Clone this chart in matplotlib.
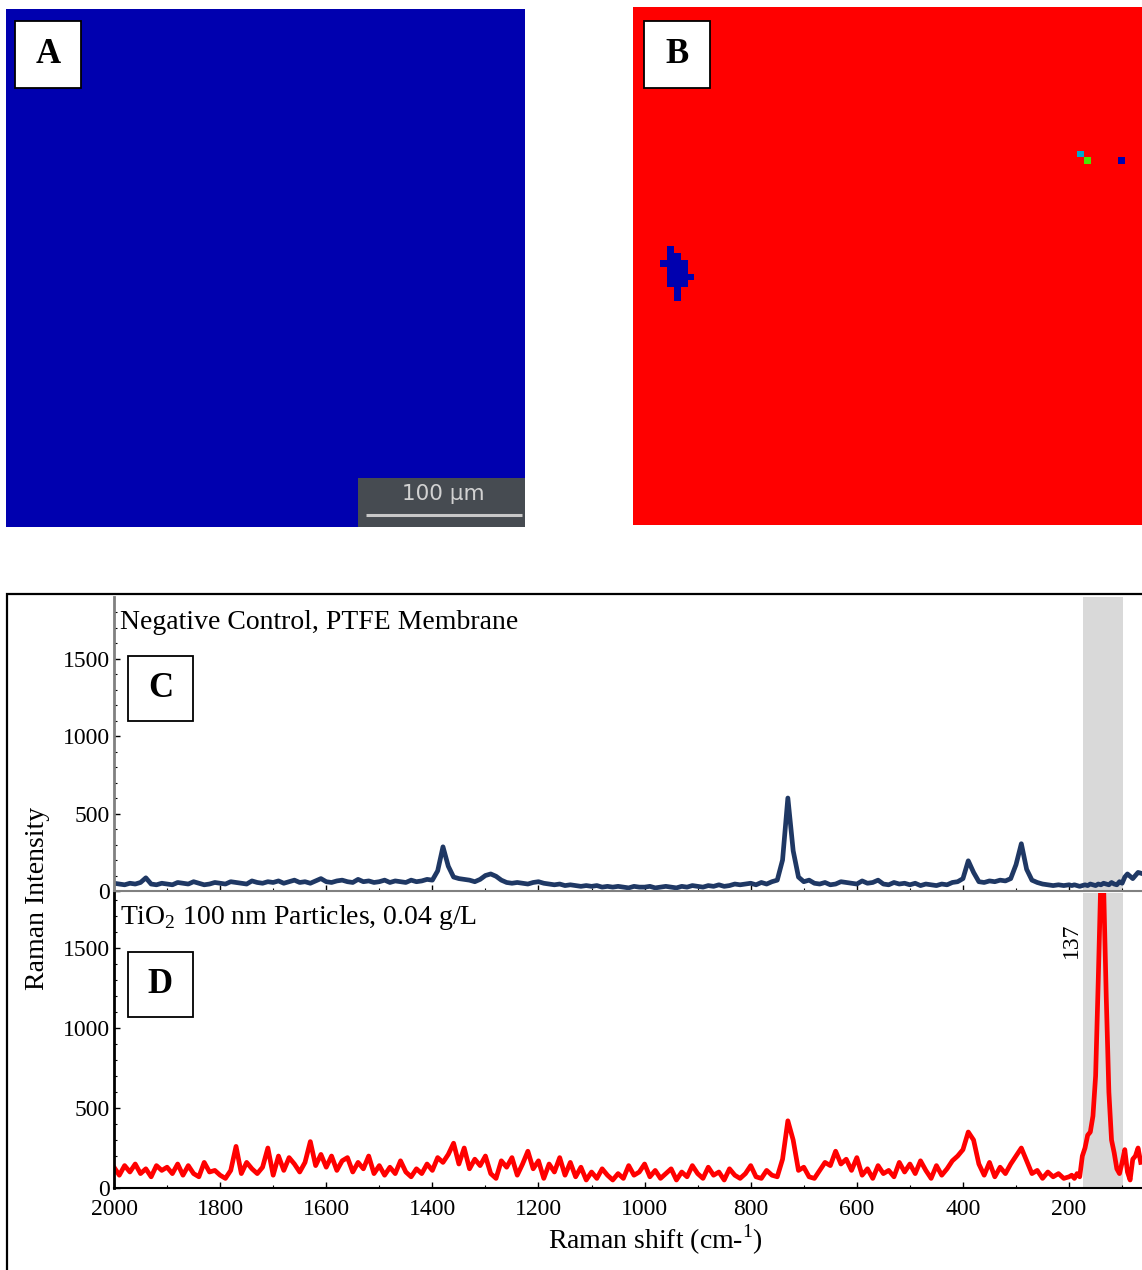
import numpy as np
import matplotlib
matplotlib.use("Agg")
import matplotlib.pyplot as plt
from matplotlib.colors import ListedColormap
from matplotlib.patches import Rectangle
from matplotlib.ticker import MultipleLocator

plt.rcParams['font.family'] = ['Liberation Serif', 'DejaVu Serif']
plt.rcParams['mathtext.fontset'] = 'custom'
plt.rcParams['mathtext.rm'] = 'Liberation Serif'

# ---- map data (class grid: 0 blue, 1 red, 2 cyan, 3 green) ----
map_colors = ['#0000AF', '#FF0000', '#00A8CC', '#4CE600']
grid_rows, grid_cols = 76, 75
blob_rows = [35, 36, 36, 37, 37, 37, 37, 38, 38, 38, 39, 39, 39, 39, 40, 40, 40, 41, 42]
blob_cols = [5, 5, 6, 4, 5, 6, 7, 5, 6, 7, 5, 6, 7, 8, 5, 6, 7, 6, 6]
spot_rows = [21, 22, 22]
spot_cols = [65, 66, 71]
spot_class = [2, 3, 0]

# ---- spectra ----
shift = np.concatenate([np.arange(2000, 200, -10), np.arange(200, 60, -5)])

control = [
    50, 45, 40, 50, 45, 55, 85, 45, 40, 50,
    45, 40, 55, 50, 45, 60, 50, 40, 45, 55,
    50, 45, 60, 55, 50, 45, 65, 55, 50, 60,
    55, 65, 50, 60, 70, 55, 60, 50, 65, 80,
    60, 55, 65, 70, 60, 55, 75, 60, 65, 55,
    60, 70, 55, 65, 60, 55, 70, 60, 65, 75,
    70, 130, 285, 160, 90, 80, 75, 70, 60, 75,
    100, 110, 95, 70, 55, 50, 55, 50, 45, 55,
    60, 50, 45, 40, 45, 35, 40, 35, 30, 35,
    30, 35, 25, 30, 25, 30, 25, 20, 30, 25,
    25, 30, 20, 25, 30, 25, 20, 30, 25, 35,
    30, 25, 35, 30, 40, 30, 35, 45, 40, 45,
    50, 40, 55, 45, 60, 70, 200, 600, 260, 90,
    60, 70, 50, 45, 55, 40, 45, 60, 55, 50,
    45, 65, 50, 55, 70, 45, 40, 55, 45, 50,
    40, 50, 35, 45, 40, 35, 45, 40, 55, 60,
    80, 195, 120, 60, 55, 65, 60, 70, 65, 80,
    170, 305, 140, 70, 55, 45, 40, 35, 40, 35,
    40, 35, 40, 35, 30, 35, 40, 35, 45, 40, 35, 45, 40, 50,
    45, 40, 55, 45, 40, 60, 50, 90, 110, 95, 80, 100, 120, 115,
]

tio2 = [
    130, 80, 140, 100, 150, 90, 120, 70, 140, 110,
    130, 90, 150, 80, 140, 90, 70, 160, 100, 110,
    80, 60, 110, 260, 90, 160, 120, 90, 130, 250,
    80, 200, 110, 190, 150, 100, 160, 290, 140, 210,
    130, 200, 110, 170, 190, 100, 160, 120, 200, 90,
    140, 80, 130, 90, 170, 100, 70, 120, 90, 150,
    110, 190, 160, 210, 280, 150, 250, 120, 180, 140,
    200, 90, 60, 170, 130, 190, 80, 150, 230, 120,
    170, 60, 150, 100, 190, 80, 160, 70, 130, 50,
    100, 60, 120, 80, 50, 90, 60, 140, 80, 100,
    150, 70, 110, 60, 90, 120, 50, 100, 70, 140,
    90, 60, 130, 80, 100, 50, 120, 80, 60, 90,
    140, 70, 60, 110, 80, 70, 180, 420, 300, 110,
    130, 70, 60, 110, 160, 140, 230, 150, 180, 110,
    190, 80, 120, 60, 140, 90, 110, 70, 160, 100,
    150, 90, 170, 110, 60, 140, 80, 120, 170, 200,
    240, 350, 300, 150, 80, 160, 70, 130, 90, 150,
    200, 250, 170, 90, 110, 60, 100, 70, 90, 60,
    70, 80, 60, 90, 70, 200, 250, 330, 350, 450, 700, 1300, 1950, 1900,
    1200, 600, 300, 220, 120, 90, 160, 240, 100, 50, 180, 200, 250, 160,
]

band = (174, 98)
peak_label = 137

W, H = 1142, 1270
fig = plt.figure(figsize=(W / 100, H / 100), dpi=100)


def box(x0, y0, x1, y1):
    # pixel box -> figure fraction [left, bottom, width, height]
    return [x0 / W, 1 - y1 / H, (x1 - x0) / W, (y1 - y0) / H]


def letter_box(x0, y0, x1, y1, letter):
    l, b, w, h = box(x0, y0, x1, y1)
    fig.add_artist(Rectangle((l, b), w, h, transform=fig.transFigure,
                             facecolor='white', edgecolor='black', lw=1.3))
    fig.text(l + w / 2, b + h / 2, letter, ha='center', va='center',
             fontsize=25, fontweight='bold')


cmap = ListedColormap(map_colors)

# panel A
ax_a = fig.add_axes(box(6, 9, 525, 527))
grid_a = np.zeros((grid_rows, grid_rows), dtype=int)
ax_a.imshow(grid_a, cmap=cmap, vmin=0, vmax=3, interpolation='nearest', aspect='auto')
ax_a.set_axis_off()
ax_a.add_patch(Rectangle((0.678, 0.0), 0.33, 0.095, transform=ax_a.transAxes,
                         facecolor='#464B51', edgecolor='none'))
ax_a.text(0.842, 0.064, '100 µm', transform=ax_a.transAxes, ha='center', va='center',
          fontsize=15.5, color='#D2D2D2', family='DejaVu Sans')
ax_a.plot([0.694, 0.994], [0.023, 0.023], transform=ax_a.transAxes,
          color='#C8C8C8', lw=2.2, solid_capstyle='butt')

# panel B
ax_b = fig.add_axes(box(633, 7, 1142, 525))
grid_b = np.ones((grid_rows, grid_cols), dtype=int)
for r, c in zip(blob_rows, blob_cols):
    grid_b[r, c] = 0
for r, c, k in zip(spot_rows, spot_cols, spot_class):
    grid_b[r, c] = k
ax_b.imshow(grid_b, cmap=cmap, vmin=0, vmax=3, interpolation='nearest', aspect='auto')
ax_b.set_xlim(-0.5, 74.0)
ax_b.set_ylim(75.27, -0.5)
ax_b.set_axis_off()

letter_box(15, 21, 81, 88, 'A')
letter_box(644, 21, 710, 88, 'B')

# outer frame of the spectra
l, b, w, h = box(7, 594, 1200, 1300)
fig.add_artist(Rectangle((l, b), w, h, transform=fig.transFigure,
                         fill=False, edgecolor='black', lw=1.6))

x_left = 2000
x_right = 2000 - (1142 - 114) / 0.5306

ax_c = fig.add_axes(box(114, 597, 1142, 891))
ax_d = fig.add_axes(box(114, 893, 1142, 1188))

ax_c.plot(shift, control, color='#1F3864', lw=3.4)
ax_d.plot(shift, tio2, color='#FF0000', lw=3.4)

for ax, ymax, spine_col in [(ax_c, 1897, '#808080'), (ax_d, 1844, 'black')]:
    ax.axvspan(band[0], band[1], color='#D9D9D9', zorder=0, lw=0)
    ax.set_xlim(x_left, x_right)
    ax.set_ylim(0, ymax)
    ax.spines['top'].set_visible(False)
    ax.spines['right'].set_visible(False)
    ax.spines['left'].set_color(spine_col)
    ax.spines['left'].set_linewidth(2)
    ax.spines['bottom'].set_color(spine_col)
    ax.spines['bottom'].set_linewidth(1.5)
    ax.set_yticks([0, 500, 1000, 1500])
    ax.yaxis.set_minor_locator(MultipleLocator(100))
    ax.set_xticks(np.arange(2000, 0, -200))
    ax.xaxis.set_minor_locator(MultipleLocator(100))
    ax.tick_params(which='major', direction='in', length=4, width=1, labelsize=17, pad=3)
    ax.tick_params(which='minor', direction='in', length=2, width=0.8)
    ax.set_facecolor('none')

ax_c.tick_params(labelbottom=False)
ax_d.tick_params(axis='x', which='major', pad=8)
ax_d.set_xticklabels([str(v) for v in np.arange(2000, 0, -200)])

ax_d.text(peak_label + 58, 1550, str(peak_label), rotation=90, ha='center', va='center', fontsize=17)

fig.text(120 / W, 1 - 622 / H, 'Negative Control, PTFE Membrane', ha='left', va='center', fontsize=20)
fig.text(120 / W, 1 - 917 / H, r'TiO$_\mathrm{2}$ 100 nm Particles, 0.04 g/L', ha='left', va='center', fontsize=20)
fig.text(38 / W, 1 - 898 / H, 'Raman Intensity', rotation=90, ha='center', va='center', fontsize=20)
fig.text(655 / W, 1 - 1240 / H, r'Raman shift (cm-$^\mathrm{1}$)', ha='center', va='center', fontsize=20)

letter_box(128, 656, 193, 721, 'C')
letter_box(128, 952, 193, 1017, 'D')

fig.savefig('out.png', dpi=100)
